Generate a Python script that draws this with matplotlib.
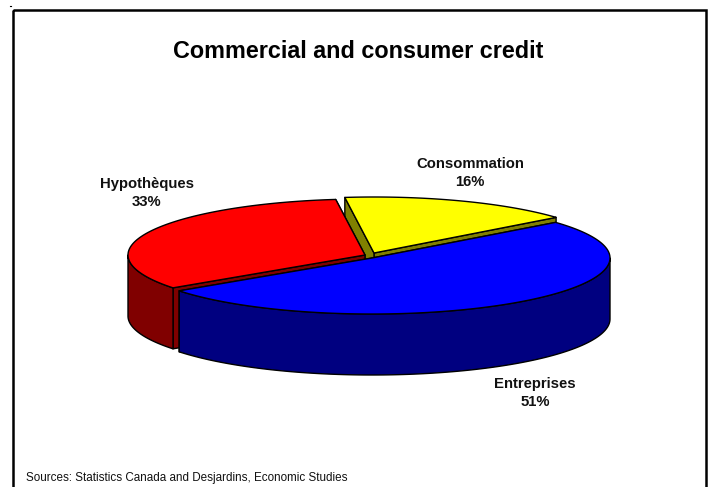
import numpy as np
import matplotlib
matplotlib.use('Agg')
import matplotlib.pyplot as plt
from matplotlib.patches import Rectangle

plt.rcParams['font.family'] = ['Liberation Sans', 'DejaVu Sans']

TITLE = 'Commercial and consumer credit'
SOURCE = 'Sources: Statistics Canada and Desjardins, Economic Studies'

# Slices, counter-clockwise from the first angle
categories = ['Consommation', 'Hypothèques', 'Entreprises']
shares = [16, 33, 51]

top_colors = ['#ffff00', '#ff0000', '#0000ff']
side_colors = ['#808000', '#800000', '#000080']

# Each slice is pulled out a bit, so each has its own apex (pixels)
apex = [(374, 253), (365, 255), (372, 258)]
radii = [(236, 56), (237, 56), (238, 56)]
label_xy = [(470, 173), (147, 193), (535, 393)]

START = 39.5
DEPTH = 61.


def rim(cen, rad, ang):
    ang = np.radians(ang)
    return cen[0] + rad[0]*np.cos(ang), cen[1] - rad[1]*np.sin(ang)


def face(ax, xs, ys, color, zorder):
    ax.fill(xs, ys, facecolor=color, edgecolor='black', lw=1.0,
            joinstyle='round', zorder=zorder)


fig = plt.figure(figsize=(7.09, 4.87), dpi=100)
ax = fig.add_axes([0, 0, 1, 1])
ax.set_xlim(0, 709)
ax.set_ylim(487, 0)
ax.axis('off')

# Chart frame, the bottom edge falls off the picture
ax.add_patch(Rectangle((13, 9.5), 693, 490, fill=False, ec='black', lw=1.8,
                       clip_on=True))
ax.plot([10, 11], [6, 6], color='black', lw=0.8)

ang0 = START
for i, share in enumerate(shares):
    ang1 = ang0 + share*3.6
    cen = apex[i]
    rad = radii[i]
    z = 2 + i*3

    # Cut faces
    for ang in [ang0, ang1]:
        x, y = rim(cen, rad, ang)
        face(ax, [cen[0], x, x, cen[0]],
             [cen[1], y, y+DEPTH, cen[1]+DEPTH], side_colors[i], z)

    # Outer wall, only the front half of the ellipse shows
    lo, hi = max(ang0, 180), min(ang1, 360)
    if hi > lo:
        x, y = rim(cen, rad, np.linspace(lo, hi, 120))
        face(ax, np.r_[x, x[::-1]], np.r_[y, y[::-1]+DEPTH],
             side_colors[i], z+1)

    # Top surface
    x, y = rim(cen, rad, np.linspace(ang0, ang1, 200))
    face(ax, np.r_[cen[0], x], np.r_[cen[1], y], top_colors[i], z+2)

    ax.text(label_xy[i][0], label_xy[i][1],
            '%s\n%d%%' % (categories[i], share), ha='center', va='center',
            fontsize=10.7, fontweight='bold', linespacing=1.45,
            color='#111111', zorder=20)
    ang0 = ang1

ax.text(358.5, 52, TITLE, ha='center', va='center', fontsize=16.85,
        fontweight='bold', color='black')
ax.text(26, 478, SOURCE, ha='left', va='center', fontsize=8.4,
        color='#111111')

fig.savefig('out.png', dpi=100)
